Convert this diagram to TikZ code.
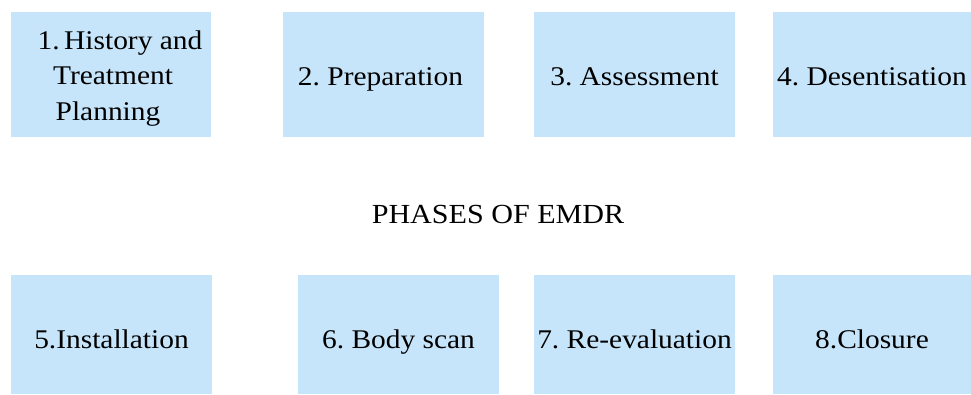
\documentclass[tikz,border=0pt]{standalone}
\usepackage{fontspec}
\setmainfont{Liberation Serif}[FakeStretch=1.09]
\definecolor{boxblue}{HTML}{C6E5FA}
\begin{document}
\frenchspacing
\begin{tikzpicture}[x=1pt,y=-1pt,
  phase/.style={fill=boxblue,draw=none,inner sep=0pt},
  phasetext/.style={inner sep=0pt,align=center,anchor=base,
    font=\fontsize{27}{35.3}\selectfont},
  titletext/.style={inner sep=0pt,anchor=base,font=\fontsize{27.6}{32}\selectfont}]
\useasboundingbox (0,0) rectangle (971,394);
\node[phase,minimum width=200pt,minimum height=125pt] (p1) at (111,74.5) {};
\node[phase,minimum width=201pt,minimum height=125pt] (p2) at (383.5,74.5) {};
\node[phase,minimum width=201pt,minimum height=125pt] (p3) at (634.5,74.5) {};
\node[phase,minimum width=198pt,minimum height=125pt] (p4) at (872,74.5) {};
\node[phase,minimum width=201pt,minimum height=119pt] (p5) at (111.5,334.5) {};
\node[phase,minimum width=201pt,minimum height=119pt] (p6) at (398.5,334.5) {};
\node[phase,minimum width=201pt,minimum height=119pt] (p7) at (634.5,334.5) {};
\node[phase,minimum width=198pt,minimum height=119pt] (p8) at (872,334.5) {};
\node[phasetext] (t1) at ([xshift=2pt]p1.center |- 0,120) {\hspace*{14pt}1.\,History and\\Treatment\hspace*{10pt}\\Planning\hspace*{10pt}};
\node[phasetext] (t2) at ([xshift=-3pt]p2.center |- 0,85) {2. Preparation};
\node[phasetext] (t3) at (p3.center |- 0,85) {3. Assessment};
\node[phasetext] (t4) at (p4.center |- 0,85) {4. Desentisation};
\node[phasetext] (t5) at (p5.center |- 0,348) {5.Installation};
\node[phasetext] (t6) at (p6.center |- 0,348) {6. Body scan};
\node[phasetext] (t7) at (p7.center |- 0,348) {7. Re-evaluation};
\node[phasetext] (t8) at (p8.center |- 0,348) {8.Closure};
\node[titletext] (title) at (498,223) {PHASES OF EMDR};
\end{tikzpicture}
\end{document}
